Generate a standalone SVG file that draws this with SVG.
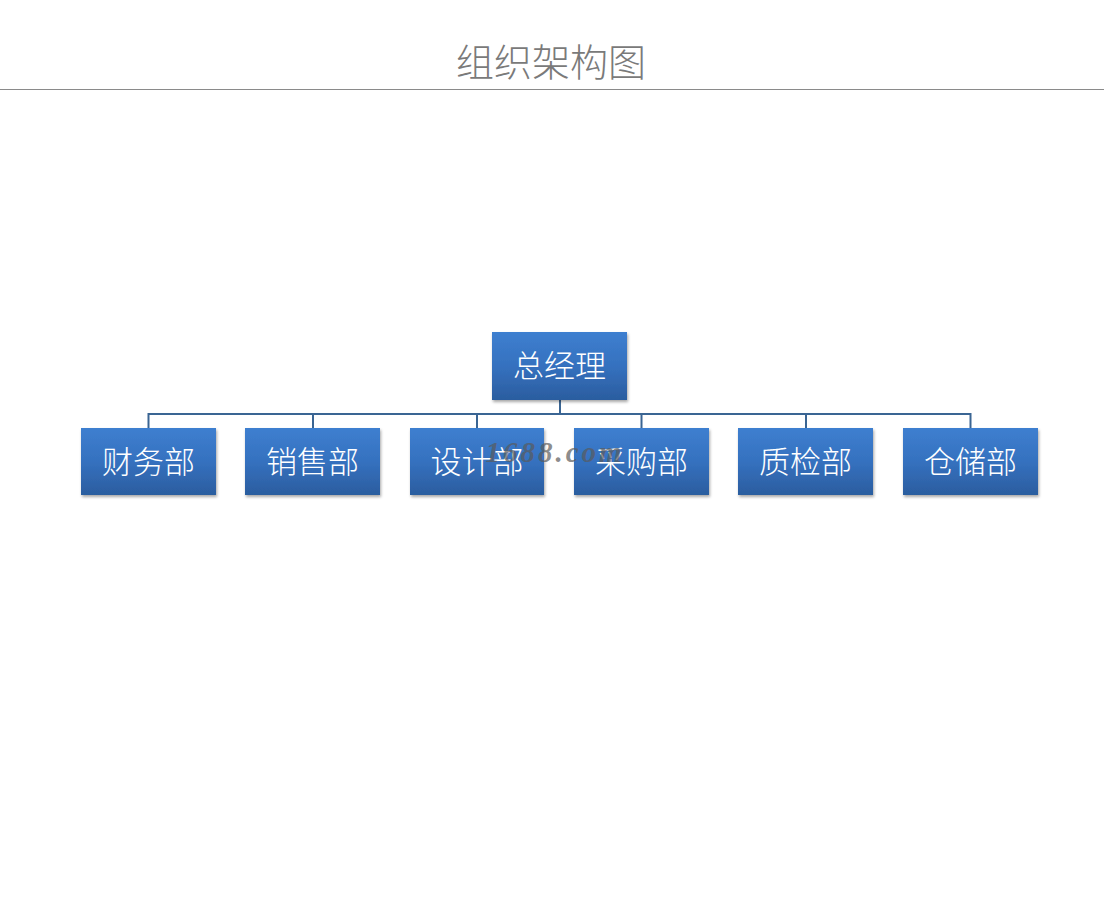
<svg xmlns="http://www.w3.org/2000/svg" width="1104" height="903" viewBox="0 0 1104 903">
<defs>
<linearGradient id="g" x1="0" y1="0" x2="0" y2="1">
<stop offset="0" stop-color="#3e7fd0"/>
<stop offset="0.5" stop-color="#3571bf"/>
<stop offset="1" stop-color="#2b5d9f"/>
</linearGradient>
<filter id="sh" x="-10%" y="-10%" width="125%" height="130%">
<feGaussianBlur in="SourceAlpha" stdDeviation="1.5"/>
<feOffset dx="1" dy="2" result="b"/>
<feComponentTransfer><feFuncA type="linear" slope="0.35"/></feComponentTransfer>
<feMerge><feMergeNode/><feMergeNode in="SourceGraphic"/></feMerge>
</filter>
</defs>
<style>
.box{fill:url(#g);filter:url(#sh);}
.lbl{font-family:"Noto Sans CJK SC","Liberation Sans",sans-serif;font-size:31px;font-weight:300;fill:#ffffff;text-anchor:middle;}
.con{stroke:#3a6593;stroke-width:2;fill:none;}
</style>
<rect width="1104" height="903" fill="#ffffff"/>
<text x="551" y="76" font-family="Noto Sans CJK SC, sans-serif" font-weight="300" font-size="38" fill="#7a7a7a" text-anchor="middle">组织架构图</text>
<line x1="0" y1="89.5" x2="1104" y2="89.5" stroke="#8a8a8a" stroke-width="1"/>
<g id="connectors">
<path class="con" d="M560 400V414M148.5 428V414H970.5V428M313 414V428M477 414V428M641.5 414V428M806 414V428"/>
</g>
<g id="n0"><rect class="box" x="492" y="332" width="135" height="68"/><text class="lbl" x="559.5" y="377">总经理</text></g>
<g id="n1"><rect class="box" x="81" y="428" width="135" height="67"/><text class="lbl" x="148.5" y="473">财务部</text></g>
<g id="n2"><rect class="box" x="245" y="428" width="135" height="67"/><text class="lbl" x="312.5" y="473">销售部</text></g>
<g id="n3"><rect class="box" x="410" y="428" width="134" height="67"/><text class="lbl" x="477" y="473">设计部</text></g>
<g id="n4"><rect class="box" x="574" y="428" width="135" height="67"/><text class="lbl" x="641.5" y="473">采购部</text></g>
<g id="n5"><rect class="box" x="738" y="428" width="135" height="67"/><text class="lbl" x="805.5" y="473">质检部</text></g>
<g id="n6"><rect class="box" x="903" y="428" width="135" height="67"/><text class="lbl" x="970.5" y="473">仓储部</text></g>
<text x="555" y="462" font-family="Liberation Serif, serif" font-style="italic" font-weight="bold" font-size="29" fill="#5a5a5a" fill-opacity="0.7" text-anchor="middle" letter-spacing="3">1688.com</text>
</svg>
